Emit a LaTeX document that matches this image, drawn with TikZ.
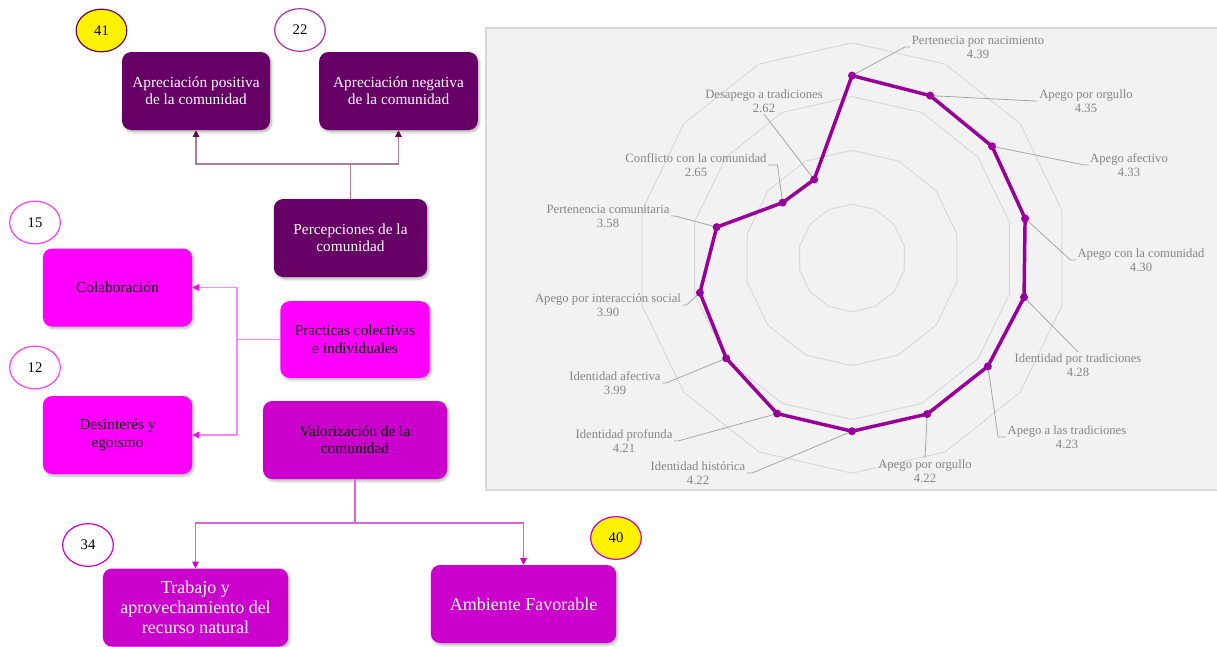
\documentclass[tikz,border=0pt]{standalone}
\usepackage{fontspec}
\setmainfont{Liberation Serif}
\usepackage{tikz}
\usetikzlibrary{shapes}
\usetikzlibrary{shadows.blur}
\usetikzlibrary{arrows.meta}
\usepackage{xcolor}

\definecolor{darkplum}{HTML}{660066}
\definecolor{brightmag}{HTML}{FF00FF}
\definecolor{midmag}{HTML}{CC00CC}
\definecolor{plumline}{HTML}{B07A98}
\definecolor{plumtip}{HTML}{6A0A40}
\definecolor{pinkline}{HTML}{FF88FF}
\definecolor{midline}{HTML}{E060E0}
\definecolor{chartbg}{HTML}{F2F2F2}
\definecolor{chartgrid}{HTML}{D9D9D9}
\definecolor{chartlead}{HTML}{A6A6A6}
\definecolor{charttext}{HTML}{858585}
\definecolor{series}{HTML}{990099}

\begin{document}
\begin{tikzpicture}[x=0.75pt,y=0.75pt,yscale=-1,xscale=1,
  box/.style={rectangle, rounded corners=7pt, align=center, inner sep=2pt, minimum height=58.5pt,
    blur shadow={shadow xshift=1.2pt, shadow yshift=-1.5pt, shadow opacity=30, shadow blur steps=4}},
  plumbox/.style={box, fill=darkplum, text=white, font=\fontsize{11.5}{12.5}\selectfont},
  pinkbox/.style={box, fill=brightmag, text=black, font=\fontsize{11.5}{13.3}\selectfont},
  valbox/.style={box, fill=midmag, text=black, font=\fontsize{11.5}{13}\selectfont},
  bigbox/.style={box, fill=midmag, text=white, font=\fontsize{13.5}{15}\selectfont},
  count/.style={ellipse, draw, line width=0.9pt, fill=white, minimum width=38pt, minimum height=32pt,
    inner sep=0pt, font=\fontsize{11}{13}\selectfont},
  plumlink/.style={draw=plumline, line width=0.8pt, -{Triangle[width=5pt,length=5pt,color=plumtip]}},
  pinklink/.style={draw=pinkline, line width=0.8pt, -{Triangle[width=5pt,length=5pt,color=brightmag]}},
  midlink/.style={draw=midline, line width=0.8pt, -{Triangle[width=5pt,length=5pt,color=midmag]}},
  ringline/.style={draw=chartgrid, line width=0.75pt},
  leader/.style={draw=chartlead, line width=0.6pt},
  chartlab/.style={align=center, text=charttext, inner sep=1pt, font=\fontsize{9.5}{10.5}\selectfont}
]
\useasboundingbox (0,0) rectangle (1217,646);

%Shape: count ovals
\node [count, draw=plumtip, fill=yellow] (n41) at (101.5,30.5) {41};
\node [count, draw=series!80] (n22) at (300,30) {22};
\node [count, draw=brightmag!75] (n15) at (35,222.5) {15};
\node [count, draw=brightmag!75] (n12) at (35,367.5) {12};
\node [count, draw=midmag] (n34) at (88,545) {34};
\node [count, draw=midmag, fill=yellow] (n40) at (616,538) {40};

%Shape: boxes
\node [plumbox, minimum width=111pt] (posi) at (196,91) {Apreciación positiva\\de la comunidad};
\node [plumbox, minimum width=119pt] (nega) at (398.5,91) {Apreciación negativa\\de la comunidad};
\node [plumbox, minimum width=115pt] (perc) at (350.5,238) {Percepciones de la\\comunidad};
\node [pinkbox, minimum width=112pt] (cola) at (117.5,287.5) {Colaboración};
\node [pinkbox, minimum width=112pt, minimum height=57.5pt] (prac) at (355,339.5) {Practicas colectivas\\e individuales};
\node [pinkbox, minimum width=112pt] (desi) at (117.5,435) {Desinterés y\\egoismo};
\node [valbox, minimum width=138pt] (valo) at (355,440) {Valorización de la\\comunidad};
\node [bigbox, minimum width=139pt] (trab) at (195.5,607.5) {Trabajo y\\aprovechamiento del\\recurso natural};
\node [bigbox, minimum width=139pt] (ambi) at (523.5,604) {Ambiente Favorable};

%Connectors
\coordinate (jperc) at (350.5,164);
\draw [plumlink] (perc.north) -- (jperc) -| (posi.south);
\draw [plumlink] (jperc) -| (nega.south);
\coordinate (jprac) at (237,339.5);
\draw [pinklink] (prac.west) -- (jprac) |- (cola.east);
\draw [pinklink] (jprac) |- (desi.east);
\coordinate (jvalo) at (355,523);
\draw [midlink] (valo.south) -- (jvalo) -| (trab.north);
\draw [midlink] (jvalo) -| (ambi.north);

%Shape: radar chart area
\draw [fill=chartbg, draw=chartgrid, line width=1.2pt] (486,28) rectangle (1222,490);
\begin{scope}[shift={(852,258)}]
  \foreach \r in {53.8,107.6,161.4,215.2}
    \draw [ringline] (-90:\r) \foreach \k in {1,...,13}{ -- ({-90+\k*360/14}:\r)} -- cycle;
  \foreach \k/\v in {0/4.39,1/4.35,2/4.33,3/4.30,4/4.28,5/4.23,6/4.22,7/4.22,8/4.21,9/3.99,10/3.90,11/3.58,12/2.65,13/2.62}
    \coordinate (p\k) at ({-90+\k*360/14}:{53.8*(\v-1)});
\end{scope}

% Text Node
\node [chartlab] (lbl0) at (978,47) {Pertenecia por nacimiento\\4.39};
\node [chartlab] (lbl1) at (1086,101) {Apego por orgullo\\4.35};
\node [chartlab] (lbl2) at (1129,165) {Apego afectivo\\4.33};
\node [chartlab] (lbl3) at (1141,260) {Apego con la comunidad\\4.30};
\node [chartlab] (lbl4) at (1078,365) {Identidad por tradiciones\\4.28};
\node [chartlab] (lbl5) at (1067,437) {Apego a las tradiciones\\4.23};
\node [chartlab] (lbl6) at (925,471) {Apego por orgullo\\4.22};
\node [chartlab] (lbl7) at (698,473) {Identidad histórica\\4.22};
\node [chartlab] (lbl8) at (624,441) {Identidad profunda\\4.21};
\node [chartlab] (lbl9) at (615,383) {Identidad afectiva\\3.99};
\node [chartlab] (lbl10) at (608,305) {Apego por interacción social\\3.90};
\node [chartlab] (lbl11) at (608,216) {Pertenencia comunitaria\\3.58};
\node [chartlab] (lbl12) at (696,165) {Conflicto con la comunidad\\2.65};
\node [chartlab] (lbl13) at (764,101) {Desapego a tradiciones\\2.62};

%Straight Lines: leaders
\draw [leader] (p0) -- ([xshift=-4pt]lbl0.west) -- (lbl0.west);
\draw [leader] (p1) -- ([xshift=-2pt]lbl1.west) -- (lbl1.west);
\draw [leader] (p2) -- ([xshift=-3pt]lbl2.west) -- (lbl2.west);
\draw [leader] (p3) -- ([xshift=-4pt]lbl3.west) -- (lbl3.west);
\draw [leader] (p4) -- (lbl4.north);
\draw [leader] (p5) -- ([xshift=-6pt]lbl5.west) -- (lbl5.west);
\draw [leader] (p6) -- (lbl6.north);
\draw [leader] (p7) -- ([xshift=4pt]lbl7.east) -- (lbl7.east);
\draw [leader] (p8) -- ([xshift=3pt]lbl8.east) -- (lbl8.east);
\draw [leader] (p9) -- ([xshift=3pt]lbl9.east) -- (lbl9.east);
\draw [leader] (p10) -- ([xshift=3pt]lbl10.east) -- (lbl10.east);
\draw [leader] (p11) -- ([xshift=3pt]lbl11.east) -- (lbl11.east);
\draw [leader] (p12) -- ([xshift=7pt]lbl12.east) -- (lbl12.east);
\draw [leader] (p13) -- (lbl13.south);

%Series line
\draw [series, line width=2.6pt, line join=round] (p0) \foreach \k in {1,...,13}{ -- (p\k)} -- cycle;
\foreach \k in {0,...,13}
  \fill [series] (p\k) circle (4);

\end{tikzpicture}
\end{document}
